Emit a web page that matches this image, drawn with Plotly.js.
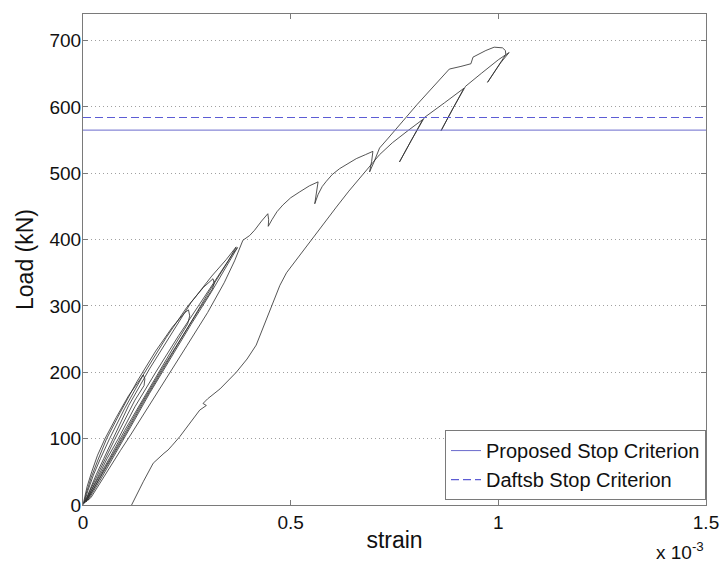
<!DOCTYPE html>
<html>
<head>
<meta charset="utf-8">
<script src="https://cdn.plot.ly/plotly-3.0.1.min.js"></script>
<style>html,body{margin:0;padding:0;background:#fff;}#chart{width:721px;height:563px;}</style>
</head>
<body>
<div id="chart"></div>
<script>
// Strain values are in units of 1e-3 (axis shows "x 10^-3"); load in kN.
// Early cyclic loading near the origin
var cycleStrain = [0,0.003,0.01,0.021,0.035,0.053,0.08,0.11,0.145,0.149,0.147,
  0.125,0.1,0.075,0.05,0.03,0.012,0.002,
  0.008,0.02,0.036,0.057,0.09,0.13,0.175,0.215,0.245,0.254,0.257,0.252,
  0.22,0.18,0.14,0.1,0.065,0.035,0.012,0.003,
  0.012,0.025,0.042,0.064,0.1,0.145,0.2,0.25,0.29,0.313,0.316,0.311,
  0.28,0.24,0.19,0.14,0.095,0.055,0.025,0.006,
  0.016,0.032,0.05,0.072,0.11,0.16,0.21,0.26,0.31,0.345,0.365,0.369,
  0.35,0.3,0.25,0.2,0.15,0.105,0.065,0.03,0.008,
  0.02,0.038,0.058,0.085,0.125,0.175,0.23,0.28,0.33,0.36,0.372,
  0.355,0.31,0.26,0.21,0.16,0.115,0.075,0.04,0.012,
  0.02,0.04,0.065,0.09,0.113,0.16,0.205,0.25,0.3,0.34,0.365,0.375,0.378];
var cycleLoad = [0,10,28,50,75,100,132,165,196,190,180,
  158,128,97,65,38,14,2,
  18,42,68,100,140,186,232,268,290,294,285,273,
  240,198,155,112,72,38,12,3,
  22,45,70,100,145,196,252,298,328,341,334,325,
  295,255,205,152,103,58,24,4,
  22,46,70,100,150,205,255,305,345,370,386,389,
  368,318,265,212,160,110,66,28,5,
  22,45,70,100,148,200,255,302,350,378,388,
  370,322,272,220,168,118,74,36,7,
  12,32,58,82,104,150,196,240,290,335,368,385,390];
// Envelope with load drops up to the peak
var envStrain = [0.385,0.401,0.413,0.43,0.445,0.447,0.446,0.455,0.467,0.481,0.5,0.522,0.545,0.566,0.562,0.558,
  0.566,0.576,0.586,0.6,0.618,0.64,0.658,0.68,0.698,0.695,0.69,0.7,0.714,0.735,0.754,0.778,0.805,0.834,0.86,
  0.882,0.91,0.934,0.939,0.97,0.99,1.01,1.017,1.018,0.995,0.974,0.985,1.005,1.026];
var envLoad = [399,406,414,428,439,430,420,430,442,452,463,472,481,487,472,454,
  468,480,488,498,507,515,522,528,533,518,502,516,538,553,567,584,604,624,642,
  657,661,665,675,685,690,689,685,679,657,637,647,666,682];
// Second (lower) branch with small unload/reload loops, down to residual strain
var branchStrain = [1.0,0.96,0.921,0.89,0.862,0.868,0.895,0.917,0.87,0.822,0.79,0.762,0.766,0.795,0.818,
  0.784,0.745,0.714,0.69,0.674,0.64,0.61,0.562,0.517,0.49,0.474,0.445,0.417,0.395,0.369,0.33,0.3,
  0.289,0.297,0.281,0.26,0.233,0.215,0.205,0.195,0.169,0.145,0.117];
var branchLoad = [671,651,631,597,564,570,603,628,606,584,549,517,521,554,581,
  565,546,528,510,499,473,449,409,372,350,331,286,241,220,200,175,160,
  153,150,143,125,103,90,83,78,63,35,0];

var stopX = [0, 1.5];
var proposedStop = [565, 565];
var daftsbStop = [584, 584];
var xTicks = [0, 0.5, 1, 1.5];
var xTickText = ['0', '0.5', '1', '1.5'];
var yTicks = [0, 100, 200, 300, 400, 500, 600, 700];

var font = 'Liberation Sans, Arial, Helvetica, sans-serif';
var stopColor = '#6b6bcc';
var dashColor = '#5c5cd4';
var frameColor = '#7a7a7a';

var traces = [
  {x: cycleStrain.concat(envStrain, branchStrain), y: cycleLoad.concat(envLoad, branchLoad),
   mode: 'lines', line: {color: '#2a2a2a', width: 0.8}, showlegend: false, hoverinfo: 'skip'},
  {x: stopX, y: proposedStop, mode: 'lines', name: 'Proposed Stop Criterion',
   line: {color: stopColor, width: 1}},
  {x: stopX, y: daftsbStop, mode: 'lines', name: 'Daftsb Stop Criterion',
   line: {color: dashColor, width: 1.2, dash: '8px,4px'}}
];

var layout = {
  width: 721, height: 563,
  margin: {l: 83, r: 15, t: 14, b: 58},
  paper_bgcolor: '#fff', plot_bgcolor: '#fff',
  font: {family: font, size: 19, color: '#111'},
  xaxis: {
    range: [0, 1.5], tickvals: xTicks, ticktext: xTickText,
    ticks: 'inside', ticklen: 5, tickcolor: frameColor,
    showline: true, linecolor: frameColor, linewidth: 1, mirror: 'ticks',
    showgrid: false, zeroline: false,
    tickfont: {family: font, size: 19, color: '#111'},
    title: {text: 'strain', font: {family: font, size: 23, color: '#111'}, standoff: 0}
  },
  yaxis: {
    range: [0, 740], tickvals: yTicks,
    ticks: 'inside', ticklen: 5, tickcolor: frameColor,
    showline: true, linecolor: frameColor, linewidth: 1, mirror: 'ticks',
    showgrid: true, gridcolor: '#a0a0a0', gridwidth: 1, griddash: '1px,3px',
    zeroline: false, ticklabelstandoff: -3,
    tickfont: {family: font, size: 19, color: '#111'},
    title: {text: 'Load (kN)', font: {family: font, size: 23, color: '#111'}, standoff: 9}
  },
  legend: {
    x: 1, y: 0.01, xanchor: 'right', yanchor: 'bottom',
    bgcolor: '#fff', bordercolor: frameColor, borderwidth: 1,
    font: {family: font, size: 20, color: '#111'},
    tracegroupgap: 0
  },
  annotations: [{
    xref: 'paper', yref: 'paper', x: 1.0, y: -0.093, xanchor: 'right', yanchor: 'middle',
    text: 'x 10<sup>-3</sup>', showarrow: false, font: {family: font, size: 19, color: '#111'}
  }]
};

Plotly.newPlot('chart', traces, layout, {displayModeBar: false, staticPlot: true});
</script>
</body>
</html>
